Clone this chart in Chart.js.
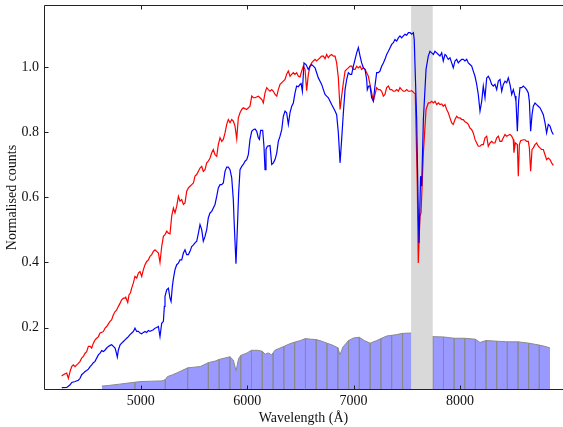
<!DOCTYPE html>
<html>
<head>
<meta charset="utf-8">
<script src="https://cdn.jsdelivr.net/npm/chart.js@4.4.1/dist/chart.umd.min.js"></script>
<style>
  html, body { margin: 0; padding: 0; background: #fff; }
  #wrap { width: 563px; height: 427px; }
</style>
</head>
<body>
<div id="wrap"><canvas id="c" width="563" height="427"></canvas></div>
<script>
// ---- Data ----
const redWl = [4257,4273,4289,4304,4320,4336,4351,4367,4383,4398,4414,4430,4445,4461,4477,4492,4508,4524,4539,4555,4571,4586,4602,4618,4633,4649,4665,4680,4696,4712,4727,4743,4759,4774,4790,4806,4821,4837,4852,4859,4878,4890,4903,4915,4931,4946,4962,4978,4993,5009,5025,5040,5056,5072,5087,5103,5119,5134,5150,5166,5181,5197,5213,5228,5244,5260,5275,5291,5307,5322,5338,5354,5369,5385,5401,5416,5432,5448,5463,5479,5495,5510,5526,5557,5573,5588,5604,5620,5635,5651,5667,5682,5698,5714,5729,5745,5761,5776,5792,5808,5823,5839,5855,5870,5886,5902,5917,5933,5949,5964,5996,6027,6043,6058,6074,6105,6121,6137,6152,6168,6184,6199,6215,6231,6246,6262,6278,6293,6309,6340,6356,6371,6387,6403,6418,6434,6450,6465,6481,6497,6512,6528,6544,6559,6575,6591,6606,6622,6638,6653,6669,6685,6700,6716,6732,6747,6763,6779,6794,6810,6826,6841,6857,6873,6888,6904,6920,6935,6951,6967,6982,6998,7014,7029,7045,7061,7076,7092,7108,7123,7139,7154,7170,7186,7201,7217,7233,7248,7264,7280,7295,7311,7327,7343,7358,7374,7389,7405,7421,7436,7452,7468,7483,7499,7515,7530,7546,7568,7580,7599,7608,7624,7634,7656,7681,7702,7718,7734,7750,7765,7781,7797,7812,7828,7843,7859,7875,7890,7906,7922,7937,7953,7969,7984,8000,8016,8031,8047,8063,8078,8094,8110,8125,8141,8157,8172,8188,8204,8219,8235,8251,8266,8282,8298,8313,8329,8345,8360,8376,8392,8407,8423,8439,8454,8470,8486,8501,8507,8520,8539,8548,8558,8570,8595,8611,8626,8642,8652,8664,8677,8689,8705,8720,8736,8752,8767,8783,8799,8814,8830,8846,8861,8877];
const redVal = [0.051,0.055,0.058,0.060,0.044,0.065,0.080,0.085,0.080,0.085,0.090,0.096,0.106,0.111,0.121,0.126,0.142,0.142,0.137,0.152,0.162,0.167,0.172,0.183,0.185,0.188,0.198,0.203,0.211,0.219,0.224,0.239,0.249,0.254,0.265,0.275,0.285,0.290,0.290,0.293,0.277,0.301,0.306,0.321,0.337,0.357,0.352,0.367,0.372,0.357,0.378,0.393,0.403,0.408,0.419,0.424,0.434,0.439,0.434,0.429,0.400,0.449,0.480,0.485,0.496,0.490,0.488,0.542,0.567,0.552,0.572,0.603,0.588,0.593,0.578,0.583,0.619,0.629,0.634,0.639,0.644,0.665,0.670,0.690,0.695,0.680,0.685,0.706,0.711,0.721,0.737,0.747,0.731,0.726,0.762,0.783,0.772,0.778,0.798,0.824,0.839,0.829,0.839,0.834,0.819,0.780,0.844,0.860,0.870,0.875,0.870,0.880,0.911,0.906,0.906,0.911,0.906,0.901,0.890,0.921,0.937,0.931,0.926,0.931,0.926,0.916,0.911,0.931,0.947,0.957,0.962,0.978,0.988,0.972,0.978,0.983,0.978,0.983,0.972,0.970,0.988,1.003,0.993,0.928,0.978,1.003,1.013,1.019,1.024,1.019,1.024,1.029,1.034,1.034,1.026,1.039,1.029,1.036,1.039,1.034,1.034,1.013,0.967,0.870,0.911,0.952,0.988,0.993,0.998,1.003,1.003,0.993,0.993,1.003,0.998,1.003,0.993,0.998,0.993,0.983,0.972,0.947,0.921,0.896,0.916,0.937,0.931,0.931,0.926,0.911,0.916,0.937,0.942,0.931,0.931,0.926,0.926,0.931,0.926,0.937,0.931,0.926,0.926,0.931,0.926,0.926,0.928,0.921,0.918,0.634,0.398,0.542,0.553,0.737,0.870,0.890,0.890,0.895,0.890,0.895,0.885,0.890,0.885,0.887,0.880,0.885,0.870,0.860,0.844,0.829,0.824,0.839,0.849,0.844,0.844,0.839,0.839,0.832,0.829,0.824,0.813,0.808,0.798,0.778,0.767,0.757,0.757,0.762,0.762,0.783,0.788,0.757,0.767,0.772,0.767,0.767,0.783,0.788,0.772,0.772,0.783,0.793,0.788,0.791,0.793,0.788,0.778,0.737,0.767,0.762,0.665,0.762,0.774,0.777,0.777,0.772,0.772,0.752,0.680,0.747,0.752,0.762,0.767,0.757,0.752,0.747,0.747,0.731,0.716,0.721,0.716,0.706,0.698];

const blueWl = [4258,4305,4336,4352,4383,4414,4430,4445,4461,4477,4492,4508,4524,4539,4555,4571,4586,4602,4618,4633,4649,4665,4680,4696,4712,4727,4743,4759,4768,4780,4790,4806,4821,4837,4852,4868,4884,4899,4915,4931,4946,4962,4978,4993,5009,5025,5040,5056,5072,5087,5103,5119,5134,5150,5166,5181,5197,5213,5222,5228,5244,5260,5275,5285,5297,5307,5322,5338,5354,5369,5385,5401,5416,5432,5448,5463,5479,5495,5510,5526,5542,5557,5573,5588,5604,5620,5635,5651,5667,5682,5698,5714,5729,5745,5761,5776,5792,5808,5823,5839,5855,5870,5877,5895,5911,5920,5933,5949,5964,5980,5996,6011,6027,6043,6058,6074,6090,6105,6115,6127,6146,6158,6168,6177,6190,6215,6231,6246,6262,6278,6293,6309,6325,6340,6356,6371,6387,6403,6419,6434,6450,6465,6481,6497,6506,6519,6534,6553,6575,6591,6606,6622,6638,6653,6669,6685,6700,6716,6732,6747,6763,6779,6794,6810,6826,6841,6857,6873,6888,6904,6920,6935,6951,6967,6982,6998,7014,7029,7045,7061,7076,7092,7108,7123,7129,7142,7154,7170,7186,7201,7217,7233,7248,7264,7280,7295,7311,7327,7343,7358,7374,7389,7405,7421,7436,7452,7468,7483,7499,7515,7530,7546,7562,7570,7593,7608,7615,7630,7640,7656,7681,7702,7718,7734,7750,7765,7781,7797,7812,7828,7843,7859,7868,7881,7890,7906,7922,7937,7953,7969,7984,8000,8016,8031,8047,8063,8078,8094,8110,8125,8141,8157,8172,8188,8204,8219,8235,8251,8266,8282,8298,8313,8329,8345,8360,8376,8392,8407,8423,8439,8454,8470,8486,8501,8517,8526,8539,8551,8564,8580,8595,8611,8626,8642,8652,8664,8677,8689,8705,8720,8736,8752,8767,8783,8799,8814,8830,8846,8861,8877,8883];
const blueVal = [0.015,0.016,0.024,0.031,0.034,0.038,0.044,0.055,0.060,0.065,0.068,0.072,0.080,0.085,0.092,0.096,0.106,0.116,0.121,0.129,0.126,0.131,0.137,0.142,0.145,0.147,0.142,0.137,0.126,0.109,0.131,0.147,0.152,0.157,0.162,0.167,0.172,0.178,0.183,0.188,0.198,0.188,0.188,0.183,0.181,0.185,0.188,0.185,0.191,0.188,0.191,0.193,0.198,0.200,0.203,0.172,0.213,0.219,0.265,0.296,0.316,0.321,0.290,0.280,0.326,0.350,0.378,0.393,0.398,0.408,0.408,0.429,0.439,0.424,0.424,0.434,0.449,0.454,0.460,0.465,0.490,0.516,0.501,0.465,0.480,0.501,0.537,0.552,0.557,0.567,0.578,0.603,0.629,0.639,0.639,0.644,0.680,0.693,0.693,0.685,0.660,0.593,0.531,0.396,0.531,0.613,0.685,0.695,0.701,0.711,0.716,0.731,0.778,0.803,0.808,0.810,0.803,0.783,0.778,0.806,0.806,0.757,0.685,0.747,0.757,0.759,0.701,0.706,0.716,0.736,0.772,0.788,0.808,0.849,0.865,0.860,0.824,0.860,0.880,0.890,0.921,0.942,0.940,0.947,0.952,0.926,1.013,1.008,0.993,1.003,1.008,1.003,0.998,0.983,0.967,0.957,0.947,0.931,0.916,0.911,0.906,0.895,0.885,0.875,0.865,0.854,0.798,0.706,0.778,0.860,0.931,0.962,0.983,0.978,0.978,1.003,1.024,1.044,1.060,1.034,1.013,0.998,0.993,0.962,0.931,0.942,0.942,0.906,0.896,0.942,0.983,0.983,0.988,1.003,1.013,1.024,1.039,1.049,1.060,1.070,1.075,1.085,1.080,1.090,1.096,1.090,1.096,1.101,1.098,1.106,1.106,1.101,1.106,1.085,0.839,0.552,0.460,0.665,0.634,0.839,0.993,1.034,1.049,1.044,1.039,1.049,1.044,1.039,1.034,1.044,1.019,1.039,1.037,1.029,1.024,1.029,1.013,0.998,1.019,1.024,1.013,1.019,1.024,1.024,1.019,1.024,1.013,1.008,1.003,0.988,0.972,0.947,0.916,0.865,0.895,0.942,0.906,0.967,0.972,0.962,0.947,0.942,0.947,0.931,0.957,0.962,0.926,0.947,0.957,0.952,0.967,0.947,0.916,0.931,0.911,0.895,0.803,0.895,0.937,0.937,0.942,0.937,0.931,0.921,0.895,0.803,0.854,0.880,0.890,0.885,0.880,0.875,0.865,0.854,0.829,0.798,0.824,0.819,0.803,0.793,0.793];

const thruWl = [4634,4700,4800,4900,4946,5000,5100,5200,5231,5250,5300,5350,5441,5500,5559,5635,5700,5737,5838,5870,5896,5920,5940,6000,6041,6100,6142,6170,6198,6230,6244,6260,6345,6400,6446,6500,6548,6600,6649,6700,6750,6800,6852,6873,6900,6953,7000,7054,7100,7156,7218,7257,7312,7358,7400,7460,7537,7640,7745,7845,7945,8045,8145,8188,8245,8345,8445,8545,8645,8745,8800,8846];
const thruVal = [0.020,0.022,0.026,0.030,0.032,0.034,0.035,0.036,0.040,0.049,0.055,0.062,0.076,0.078,0.080,0.092,0.097,0.102,0.110,0.100,0.067,0.105,0.114,0.122,0.130,0.130,0.127,0.118,0.122,0.116,0.122,0.130,0.142,0.150,0.155,0.160,0.166,0.164,0.163,0.158,0.152,0.146,0.138,0.116,0.140,0.160,0.168,0.170,0.160,0.152,0.160,0.166,0.174,0.176,0.178,0.182,0.183,0.178,0.172,0.171,0.167,0.167,0.164,0.154,0.160,0.158,0.156,0.156,0.152,0.146,0.142,0.137];
const dividerWl = [4946,5231,5441,5635,5737,5838,5940,6041,6142,6244,6345,6446,6548,6649,6750,6852,6953,7054,7156,7257,7358,7460,7745,7845,7945,8045,8145,8245,8345,8445,8545,8645,8745];

const bandRange = [7540, 7745];
const xTicks = [5000, 6000, 7000, 8000];
const yTicks = [0.2, 0.4, 0.6, 0.8, 1.0];
const xLimits = [4091, 8968];
const yLimits = [0.008, 1.191];

// ---- Build datasets ----
const toPts = (wl, v) => wl.map((w, i) => ({x: w, y: v[i]}));
const thruPts = [];
thruWl.forEach((w, i) => {
  thruPts.push({x: w, y: thruVal[i]});
  if (dividerWl.includes(w)) {
    thruPts.push({x: w, y: yLimits[0]});
    thruPts.push({x: w, y: thruVal[i]});
  }
});

const FONT = "'Liberation Serif', 'Times New Roman', serif";

// Axis spines (left, top, bottom; right spine lies beyond the picture) and inward ticks
const framePlugin = {
  id: 'frame',
  afterDraw(chart) {
    const {ctx, chartArea: a, scales: {x, y}} = chart;
    ctx.save();
    ctx.strokeStyle = '#222';
    ctx.lineWidth = 1;
    const L = Math.round(a.left) + 0.5, R = a.right + 2;
    const T = Math.round(a.top) + 0.5, B = Math.round(a.bottom) - 0.5;
    ctx.beginPath();
    ctx.moveTo(R, T); ctx.lineTo(L, T); ctx.lineTo(L, B); ctx.lineTo(R, B);
    const tl = 4;
    xTicks.forEach(v => {
      const px = Math.round(x.getPixelForValue(v)) + 0.5;
      ctx.moveTo(px, B); ctx.lineTo(px, B - tl);
      ctx.moveTo(px, T); ctx.lineTo(px, T + tl);
    });
    yTicks.forEach(v => {
      const py = Math.round(y.getPixelForValue(v)) + 0.5;
      ctx.moveTo(L, py); ctx.lineTo(L + tl, py);
    });
    ctx.stroke();
    ctx.restore();
  }
};

new Chart(document.getElementById('c'), {
  type: 'scatter',
  data: {
    datasets: [
      { data: toPts(blueWl, blueVal), showLine: true, borderColor: '#0000ff', borderWidth: 1.2, pointRadius: 0, fill: false, order: 0 },
      { data: toPts(redWl, redVal), showLine: true, borderColor: '#ff0000', borderWidth: 1.2, pointRadius: 0, fill: false, order: 1 },
      { data: [{x: bandRange[0], y: yLimits[1] + 0.05}, {x: bandRange[1], y: yLimits[1] + 0.05}], showLine: true, borderWidth: 0, borderColor: 'rgba(0,0,0,0)', backgroundColor: '#d9d9d9', pointRadius: 0, fill: 'start', order: 2 },
      { data: thruPts, showLine: true, borderColor: '#8a8a8a', borderWidth: 1, backgroundColor: 'rgb(153,153,255)', pointRadius: 0, fill: 'start', order: 3 }
    ]
  },
  options: {
    responsive: false,
    animation: false,
    devicePixelRatio: 1,
    layout: { padding: { top: 5, right: 0, left: 0, bottom: 0 } },
    plugins: { legend: { display: false }, tooltip: { enabled: false } },
    elements: { line: { tension: 0 } },
    scales: {
      x: {
        type: 'linear', min: xLimits[0], max: xLimits[1],
        grid: { display: false, drawTicks: false },
        border: { display: false },
        afterBuildTicks: s => { s.ticks = xTicks.map(v => ({value: v})); },
        afterFit: s => { s.height = 37; s.paddingLeft = 0; s.paddingRight = 0; },
        ticks: { padding: 3, color: '#111', font: { family: FONT, size: 14 }, callback: v => String(v), maxRotation: 0 },
        title: { display: true, text: 'Wavelength (Å)', color: '#111', font: { family: FONT, size: 14 }, padding: { top: 2, bottom: 0 } }
      },
      y: {
        type: 'linear', min: yLimits[0], max: yLimits[1],
        grid: { display: false, drawTicks: false },
        border: { display: false },
        afterBuildTicks: s => { s.ticks = yTicks.map(v => ({value: v})); },
        afterFit: s => { s.width = 44; s.paddingTop = 0; s.paddingBottom = 0; },
        ticks: { padding: 5, color: '#111', font: { family: FONT, size: 14 }, callback: v => Number(v).toFixed(1) },
        title: { display: true, text: 'Normalised counts', color: '#111', font: { family: FONT, size: 14 }, padding: { top: 4, bottom: 0 } }
      }
    }
  },
  plugins: [framePlugin]
});
</script>
</body>
</html>
